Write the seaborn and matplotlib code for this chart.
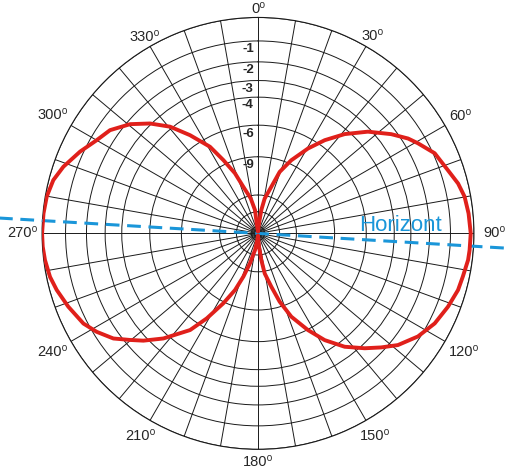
import numpy as np
import matplotlib
matplotlib.use("Agg")
import matplotlib.pyplot as plt
import seaborn as sns

winkel = [0, 5.7, 8.1, 10.8, 15.9, 19.4, 24.4, 30.5, 35.6, 41.1, 47.2, 53.3, 57.7,
          60.6, 65.6, 71.6, 76.0, 79.9, 84.6, 90, 94.5, 97.2, 101.9, 105.8, 111.1,
          117.0, 122.8, 128.6, 132.8, 137.1, 142.6, 148.0, 152.7, 158.2, 162.4,
          166.0, 170.5, 172.9, 175.7, 180,
          185.7, 190.2, 195.0, 198.7, 202.1, 206.4, 211.1, 215.1, 222.0, 226.9,
          230.2, 234.0, 238.6, 242.7, 248.9, 254.3, 258.2, 262.9, 266.5, 270,
          275.3, 279.9, 284.6, 288.9, 294.7, 300.0, 304.9, 310.5, 315.5, 320.5,
          325.3, 331.0, 334.7, 339.0, 342.5, 348.2, 352.7, 352.4, 360]
pegel_db = [-40, -26.6, -19.2, -15.7, -13.0, -10.4, -8.6, -6.81, -5.5, -4.29, -3.18,
            -2.28, -1.70, -1.41, -0.93, -0.66, -0.40, -0.25, -0.18, -0.13, -0.15,
            -0.17, -0.27, -0.33, -0.51, -0.74, -1.10, -1.63, -2.19, -2.78, -3.60,
            -4.69, -5.96, -7.63, -9.58, -11.9, -14.5, -18.1, -24.2, -40,
            -30.2, -22.1, -16.9, -13.5, -10.96, -8.84, -6.75, -5.24, -3.68, -2.77,
            -2.26, -1.64, -1.16, -0.82, -0.52, -0.28, -0.14, -0.05, -0.01, 0.0,
            -0.02, -0.06, -0.18, -0.42, -0.85, -1.28, -1.56, -2.17, -2.93, -3.87,
            -5.14, -6.77, -8.51, -10.5, -12.9, -15.6, -19.3, -26.6, -40]

ringe_db = [0, -1, -2, -3, -4, -6, -9, -15, -20, -30]
ring_labels = ["", "-1", "-2", "-3", "-4", "-6", "-9", "", "", ""]
winkel_ticks = list(range(0, 360, 10))
winkel_labels = [0, 30, 60, 90, 120, 150, 180, 210, 240, 270, 300, 330]
horizont_winkel = 93.4

# Abstand der Winkelbeschriftung vom Mittelpunkt (relativ zum Aussenkreis)
label_abstand = [1.04, 1.058, 1.083, 1.097, 1.10, 1.086, 1.06, 1.086, 1.10, 1.093, 1.10, 1.05]

sns.set_style("white")
plt.rcParams["font.family"] = ["Liberation Sans", "DejaVu Sans"]

fig = plt.figure(figsize=(5.1, 4.72), dpi=100)
ax = fig.add_axes([0.0824, 0.048, 0.847, 0.915], projection="polar")
ax.set_theta_zero_location("N")
ax.set_theta_direction(-1)
ax.set_ylim(0, 1)

radien = [10 ** (d / 20) for d in ringe_db]
ax.set_rgrids(radien, labels=[""] * len(radien))
ax.set_thetagrids(winkel_ticks, labels=[""] * len(winkel_ticks))
ax.grid(True, color="#1a1a1a", lw=0.7)
ax.spines["polar"].set_color("#1a1a1a")
ax.spines["polar"].set_linewidth(0.8)

for w, a in zip(winkel_labels, label_abstand):
    ax.text(np.deg2rad(w), a, f"{w}\u2070", fontsize=10.5, ha="center", va="center",
            clip_on=False)

for r, txt in zip(radien, ring_labels):
    if txt:
        ax.annotate(txt, xy=(0, r), xytext=(-3, -6), textcoords="offset points",
                    ha="right", va="center", fontsize=9.5, fontweight="bold")

# Horizont
h = np.deg2rad(horizont_winkel)
ax.plot([h + np.pi, h + np.pi, h, h], [1.25, 0, 0, 1.25], color="#1a96d9", lw=2.2,
        dashes=(4.5, 2.5), clip_on=False, zorder=3)
ax.text(np.deg2rad(89), 0.66, "Horizont", color="#1a96d9", fontsize=16,
        ha="center", va="baseline", zorder=4)

# Diagramm
theta = np.deg2rad(winkel)
r = 10 ** (np.array(pegel_db) / 20)
sns.lineplot(x=theta, y=r, sort=False, estimator=None, ax=ax, color="#e0201b", lw=2.8, zorder=5)
ax.set_xlabel("")
ax.set_ylabel("")

fig.savefig("out.png", dpi=100)
